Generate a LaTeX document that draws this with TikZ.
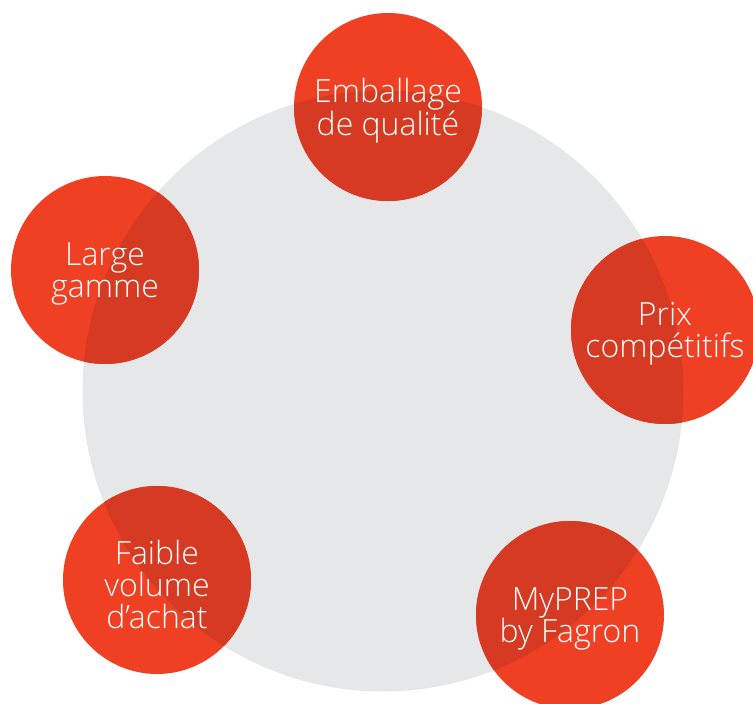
\documentclass[tikz,border=0pt]{standalone}
\usepackage{fontspec}
\newfontfamily\lightfont{Open Sans Light}
\definecolor{redc}{HTML}{F04024}
\definecolor{redd}{HTML}{D63A22}
\definecolor{grayc}{HTML}{E6E7E8}
\begin{document}
\begin{tikzpicture}[x=1pt,y=-1pt,
  bubble/.style={circle,fill=redc,minimum size=188pt,inner sep=0pt},
  label/.style={text=white,align=center,inner sep=0pt,font=\lightfont\fontsize{32}{32}\selectfont}]
\useasboundingbox (0,0) rectangle (753,704);
\node[circle,fill=grayc,minimum size=601pt,inner sep=0pt] (big) at (383,391) {};
\foreach \n/\x/\y/\t in {emb/388/107/{Emballage\\de qualit\'e},
  lar/105/270/{Large\\gamme},
  prix/665/330/{Prix\\comp\'etitifs},
  my/570/615/{MyPREP\\by Fagron},
  fai/157/580/{Faible\\volume\\d’achat}}{
  \node[bubble] (\n) at (\x,\y) {};
  \begin{scope}
    \clip (383,391) circle (300.5);
    \fill[redd] (\x,\y) circle (94);
  \end{scope}
  \node[label] (\n-t) at (\x,\y+4) {\t};
}
\end{tikzpicture}
\end{document}
